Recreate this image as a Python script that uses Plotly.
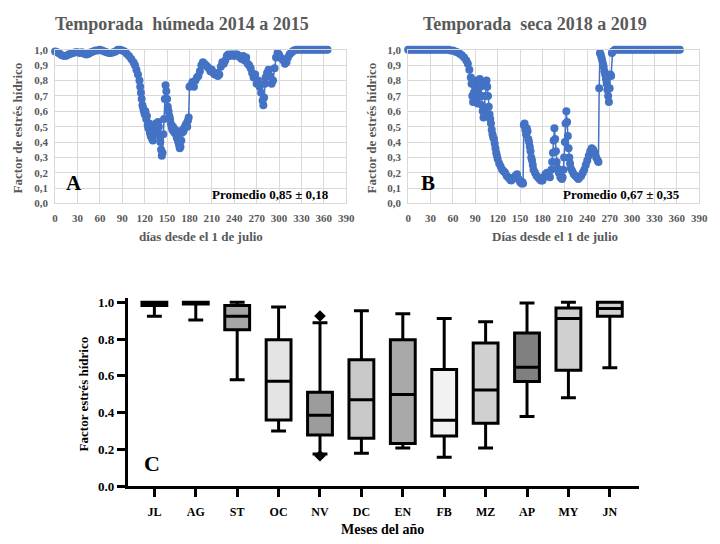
import plotly.graph_objects as go

# ---------------- Data: panel A (wet season 2014-2015) ----------------
days_a = [0, 3, 6, 9, 12, 15, 18, 21, 24, 27, 30, 33, 36, 39, 42, 45, 48, 51, 54, 57,
          60, 63, 66, 69, 72, 75, 78, 81, 84, 87, 90, 93, 96, 99, 102, 105, 107, 109, 111, 113,
          114, 115, 116, 117, 118, 119, 120, 121, 122, 123, 124, 125, 126, 127, 128, 129, 130, 131, 132, 133,
          134, 135, 136, 137, 138, 139, 140, 141, 142, 143, 144, 145, 146, 147, 148, 149, 150, 151, 152, 153,
          154, 155, 156, 157, 158, 159, 160, 161, 162, 163, 164, 165, 166, 167, 168, 169, 170, 171, 172, 173,
          174, 175, 176, 177, 178, 179, 180, 182, 184, 186, 188, 190, 192, 194, 196, 198, 200, 202, 204, 206,
          208, 210, 212, 214, 216, 218, 220, 222, 224, 226, 228, 230, 232, 234, 236, 238, 240, 242, 244, 246,
          248, 250, 252, 254, 256, 258, 260, 262, 264, 266, 268, 270, 272, 274, 276, 278, 279, 280, 281, 282,
          284, 286, 288, 290, 292, 294, 296, 298, 300, 302, 304, 306, 308, 310, 312, 314, 316, 318, 320, 323,
          326, 329, 332, 335, 338, 341, 344, 347, 350, 353, 356, 359, 362, 365]
vals_a = [0.99, 0.985, 0.975, 0.965, 0.96, 0.962, 0.97, 0.975, 0.98, 0.985, 0.985, 0.98, 0.985, 0.975, 0.97, 0.975, 0.985, 0.99, 0.995, 0.995,
          1.0, 0.995, 0.99, 0.985, 0.98, 0.98, 0.985, 0.99, 1.0, 1.0, 0.995, 0.99, 0.975, 0.96, 0.94, 0.92, 0.90, 0.87, 0.84, 0.80,
          0.76, 0.72, 0.68, 0.64, 0.62, 0.60, 0.58, 0.60, 0.55, 0.57, 0.51, 0.49, 0.52, 0.46, 0.44, 0.48, 0.42, 0.41, 0.45, 0.48,
          0.50, 0.52, 0.50, 0.47, 0.53, 0.50, 0.44, 0.40, 0.35, 0.31, 0.33, 0.45, 0.55, 0.68, 0.77, 0.73, 0.68, 0.63, 0.60, 0.57,
          0.55, 0.52, 0.50, 0.48, 0.50, 0.47, 0.46, 0.48, 0.45, 0.43, 0.42, 0.40, 0.38, 0.36, 0.37, 0.41, 0.46, 0.48, 0.47, 0.49,
          0.50, 0.51, 0.52, 0.50, 0.54, 0.56, 0.76, 0.77, 0.79, 0.76, 0.80, 0.82, 0.83, 0.86, 0.90, 0.92, 0.91, 0.90, 0.89, 0.88,
          0.86, 0.87, 0.85, 0.84, 0.85, 0.83, 0.84, 0.89, 0.92, 0.91, 0.93, 0.96, 0.97, 0.96, 0.97, 0.97, 0.96, 0.97, 0.97, 0.96,
          0.95, 0.94, 0.96, 0.93, 0.95, 0.91, 0.90, 0.88, 0.85, 0.82, 0.84, 0.78, 0.80, 0.76, 0.72, 0.67, 0.64, 0.69, 0.78, 0.82,
          0.85, 0.87, 0.83, 0.78, 0.80, 0.88, 0.95, 0.98, 0.97, 0.95, 0.94, 0.93, 0.91, 0.92, 0.95, 0.97, 0.98, 0.99, 0.995, 1.0,
          1.0, 1.0, 1.0, 1.0, 1.0, 1.0, 1.0, 1.0, 1.0, 1.0, 1.0, 1.0, 1.0, 1.0]

# ---------------- Data: panel B (dry season 2018-2019) ----------------
days_b = [0, 3, 6, 9, 12, 15, 18, 21, 24, 27, 30, 33, 36, 39, 42, 45, 48, 51, 54, 57,
          60, 63, 66, 69, 72, 75, 78, 80, 82, 84, 85, 86, 87, 88, 89, 90, 91, 92, 93, 94,
          95, 96, 97, 98, 99, 100, 101, 102, 103, 104, 105, 106, 107, 108, 109, 110, 111, 112, 113, 114,
          115, 116, 117, 118, 119, 120, 122, 124, 126, 128, 130, 132, 134, 136, 138, 140, 142, 144, 146, 148,
          150, 152, 153, 154, 155, 156, 157, 158, 159, 160, 161, 162, 163, 164, 165, 166, 167, 168, 170, 172,
          174, 176, 178, 180, 182, 184, 186, 188, 190, 192, 193, 194, 195, 196, 197, 198, 199, 200, 202, 204,
          206, 207, 208, 209, 210, 211, 212, 213, 214, 215, 216, 217, 218, 220, 222, 224, 226, 228, 230, 232,
          234, 236, 238, 240, 242, 244, 246, 248, 250, 252, 254, 255, 256, 257, 258, 259, 260, 261, 262, 263,
          264, 265, 266, 267, 268, 269, 270, 271, 272, 273, 274, 277, 280, 283, 286, 289, 292, 295, 298, 301,
          304, 307, 310, 313, 316, 319, 322, 325, 328, 331, 334, 337, 340, 343, 346, 349, 352, 355, 358, 361, 364]
vals_b = [1.0, 1.0, 1.0, 1.0, 1.0, 1.0, 1.0, 1.0, 1.0, 1.0, 1.0, 1.0, 1.0, 1.0, 1.0, 1.0, 1.0, 1.0, 1.0, 0.995,
          0.995, 0.99, 0.985, 0.975, 0.965, 0.95, 0.93, 0.91, 0.87, 0.82, 0.78, 0.70, 0.66, 0.72, 0.78, 0.80, 0.74, 0.68, 0.65, 0.72,
          0.79, 0.81, 0.76, 0.70, 0.64, 0.60, 0.56, 0.62, 0.70, 0.77, 0.80, 0.76, 0.70, 0.63, 0.58, 0.55, 0.52, 0.48, 0.45, 0.43,
          0.42, 0.39, 0.36, 0.33, 0.31, 0.29, 0.26, 0.24, 0.22, 0.21, 0.20, 0.18, 0.17, 0.16, 0.15, 0.16, 0.17, 0.18, 0.19, 0.16,
          0.14, 0.13, 0.14, 0.13, 0.51, 0.52, 0.48, 0.45, 0.49, 0.47, 0.42, 0.40, 0.37, 0.34, 0.30, 0.28, 0.25, 0.22, 0.20, 0.18,
          0.17, 0.16, 0.15, 0.15, 0.17, 0.19, 0.20, 0.19, 0.17, 0.22, 0.27, 0.33, 0.41, 0.49, 0.42, 0.34, 0.27, 0.23, 0.20, 0.17,
          0.16, 0.17, 0.22, 0.30, 0.40, 0.52, 0.60, 0.53, 0.44, 0.36, 0.30, 0.26, 0.23, 0.21, 0.19, 0.18, 0.17, 0.16, 0.17, 0.18,
          0.20, 0.22, 0.25, 0.28, 0.31, 0.34, 0.36, 0.35, 0.33, 0.30, 0.28, 0.27, 0.75, 0.98, 0.97, 0.95, 0.93, 0.91, 0.89, 0.86,
          0.84, 0.81, 0.78, 0.74, 0.70, 0.66, 0.75, 0.84, 0.83, 0.98, 0.99, 1.0, 1.0, 1.0, 1.0, 1.0, 1.0, 1.0, 1.0, 1.0,
          1.0, 1.0, 1.0, 1.0, 1.0, 1.0, 1.0, 1.0, 1.0, 1.0, 1.0, 1.0, 1.0, 1.0, 1.0, 1.0, 1.0, 1.0, 1.0, 1.0, 1.0]

# ---------------- Data: panel C (monthly box plots) ----------------
months = ["JL", "AG", "ST", "OC", "NV", "DC", "EN", "FB", "MZ", "AP", "MY", "JN"]
q1 = [0.982, 0.990, 0.850, 0.360, 0.278, 0.261, 0.232, 0.273, 0.343, 0.569, 0.630, 0.924]
median = [0.990, 0.997, 0.924, 0.570, 0.386, 0.470, 0.498, 0.359, 0.523, 0.646, 0.912, 0.965]
q3 = [1.000, 1.000, 0.982, 0.796, 0.511, 0.687, 0.796, 0.634, 0.778, 0.833, 0.968, 1.000]
lower = [0.923, 0.903, 0.579, 0.301, 0.175, 0.180, 0.208, 0.158, 0.208, 0.379, 0.481, 0.644]
upper = [1.000, 1.000, 1.000, 0.974, 0.888, 0.954, 0.937, 0.912, 0.894, 0.995, 1.000, 1.000]
fills = ["#bfbfbf", "#bfbfbf", "#a6a6a6", "#e4e4e4", "#9c9c9c", "#c9c9c9",
         "#a9a9a9", "#f2f2f2", "#d0d0d0", "#808080", "#d0d0d0", "#d0d0d0"]
outlier_month = ["NV", "NV"]
outlier_vals = [0.925, 0.166]

ticks_y = [0.0, 0.1, 0.2, 0.3, 0.4, 0.5, 0.6, 0.7, 0.8, 0.9, 1.0]
ticks_y_text = ["0,0", "0,1", "0,2", "0,3", "0,4", "0,5", "0,6", "0,7", "0,8", "0,9", "1,0"]
ticks_x = [0, 30, 60, 90, 120, 150, 180, 210, 240, 270, 300, 330, 360, 390]

SERIF = "Liberation Serif"
GRAY = "#595959"
BLUE = "#4472C4"
W, H = 720, 544

def px(x):
    return x / W

def py(y):
    return 1 - y / H

fig = go.Figure()

fig.add_trace(go.Scatter(x=days_a, y=vals_a, mode="lines+markers",
                         line=dict(color=BLUE, width=1.5),
                         marker=dict(color=BLUE, size=8),
                         cliponaxis=False, showlegend=False,
                         xaxis="x", yaxis="y"))
fig.add_trace(go.Scatter(x=days_b, y=vals_b, mode="lines+markers",
                         line=dict(color=BLUE, width=1.5),
                         marker=dict(color=BLUE, size=8),
                         cliponaxis=False, showlegend=False,
                         xaxis="x2", yaxis="y2"))

for i, m in enumerate(months):
    fig.add_trace(go.Box(x=[m], q1=[q1[i]], median=[median[i]], q3=[q3[i]],
                         lowerfence=[lower[i]], upperfence=[upper[i]],
                         fillcolor=fills[i], line=dict(color="black", width=3),
                         width=0.6, whiskerwidth=0.6, boxpoints=False,
                         showlegend=False, xaxis="x3", yaxis="y3"))

fig.add_trace(go.Scatter(x=outlier_month, y=outlier_vals, mode="markers",
                         marker=dict(symbol="diamond", color="black", size=9),
                         showlegend=False, cliponaxis=False,
                         xaxis="x3", yaxis="y3"))

tick_font_top = dict(family=SERIF, size=11, color=GRAY, weight="bold")
grid = "#d9d9d9"

common_x = dict(range=[0, 390], tickvals=ticks_x, showgrid=True, gridcolor=grid,
                zeroline=False, showline=True, linecolor=grid, mirror=True,
                tickfont=tick_font_top, ticks="", ticklabelstandoff=4,
                ticklabeloverflow="allow", fixedrange=True)
common_y = dict(range=[0, 1.0], tickvals=ticks_y, ticktext=ticks_y_text, showgrid=True,
                gridcolor=grid, zeroline=False, showline=True, linecolor=grid, mirror=True,
                tickfont=tick_font_top, ticks="", ticklabelstandoff=4, fixedrange=True)

ydom_top = [py(202.7), py(45)]
fig.update_layout(
    width=W, height=H, margin=dict(l=0, r=0, t=0, b=0),
    paper_bgcolor="white", plot_bgcolor="white",
    boxmode="overlay",
    xaxis=dict(domain=[px(53), px(349)], anchor="y", **common_x),
    yaxis=dict(domain=ydom_top, anchor="x", **common_y),
    xaxis2=dict(domain=[px(412), px(708)], anchor="y2", **common_x),
    yaxis2=dict(domain=ydom_top, anchor="x2", **common_y),
    xaxis3=dict(domain=[px(127), px(647)], anchor="y3", type="category",
                categoryorder="array", categoryarray=months,
                range=[-0.64, 11.71], showgrid=False, zeroline=False,
                showline=True, linecolor="black", linewidth=3,
                ticks="outside", ticklen=8, tickwidth=3, tickcolor="black",
                ticklabelstandoff=4,
                tickfont=dict(family=SERIF, size=12, color="black", weight="bold"),
                fixedrange=True),
    yaxis3=dict(domain=[py(493), py(493 - 1.02 * 189)], anchor="x3",
                range=[0, 1.02], tickvals=[0, 0.2, 0.4, 0.6, 0.8, 1.0],
                ticktext=["0.0", "0.2", "0.4", "0.6", "0.8", "1.0"],
                showgrid=False, zeroline=False, showline=True, linecolor="black",
                linewidth=3, ticks="outside", ticklen=8, tickwidth=3, tickcolor="black",
                tickfont=dict(family=SERIF, size=13, color="black", weight="bold"),
                fixedrange=True),
)

def ann(text, x, y, size, color, angle=0, xanchor="center"):
    fig.add_annotation(text=text, x=px(x), y=py(y), xref="paper", yref="paper",
                       showarrow=False, textangle=angle, xanchor=xanchor, yanchor="middle",
                       font=dict(family=SERIF, size=size, color=color, weight="bold"))

# titles
ann("Temporada  húmeda 2014 a 2015", 182, 18, 18, GRAY)
ann("Temporada  seca 2018 a 2019", 541, 18, 18, GRAY)
# axis titles
ann("Factor de estrés hídrico", 15, 125, 13, GRAY, angle=-90)
ann("Factor de estrés hídrico", 375, 125, 13, GRAY, angle=-90)
ann("días desde el 1 de julio", 201, 237, 13, GRAY)
ann("Días desde el 1 de julio", 561, 237, 13, GRAY)
# panel labels and means
ann("A", 72, 182, 21, "black")
ann("B", 432, 182, 21, "black")
ann("Promedio 0,85 ± 0,18", 272, 193, 13, "black")
ann("Promedio 0,67 ± 0,35", 629, 193, 13, "black")
# panel C
ann("C", 152, 470, 22, "black")
ann("Factor estrés hídrico", 82, 398, 13, "black", angle=-90)
ann("Meses del año", 386, 537, 14, "black")

fig.write_html(
    "out.html",
    config={"displayModeBar": False, "responsive": False},
    post_script=(
        "document.documentElement.style.margin='0';"
        "document.documentElement.style.overflow='hidden';"
        "document.body.style.margin='0';"
        "document.body.style.overflow='hidden';"
        "document.querySelectorAll('.main-svg').forEach(function(s){s.style.overflow='hidden';});"
    ),
)
